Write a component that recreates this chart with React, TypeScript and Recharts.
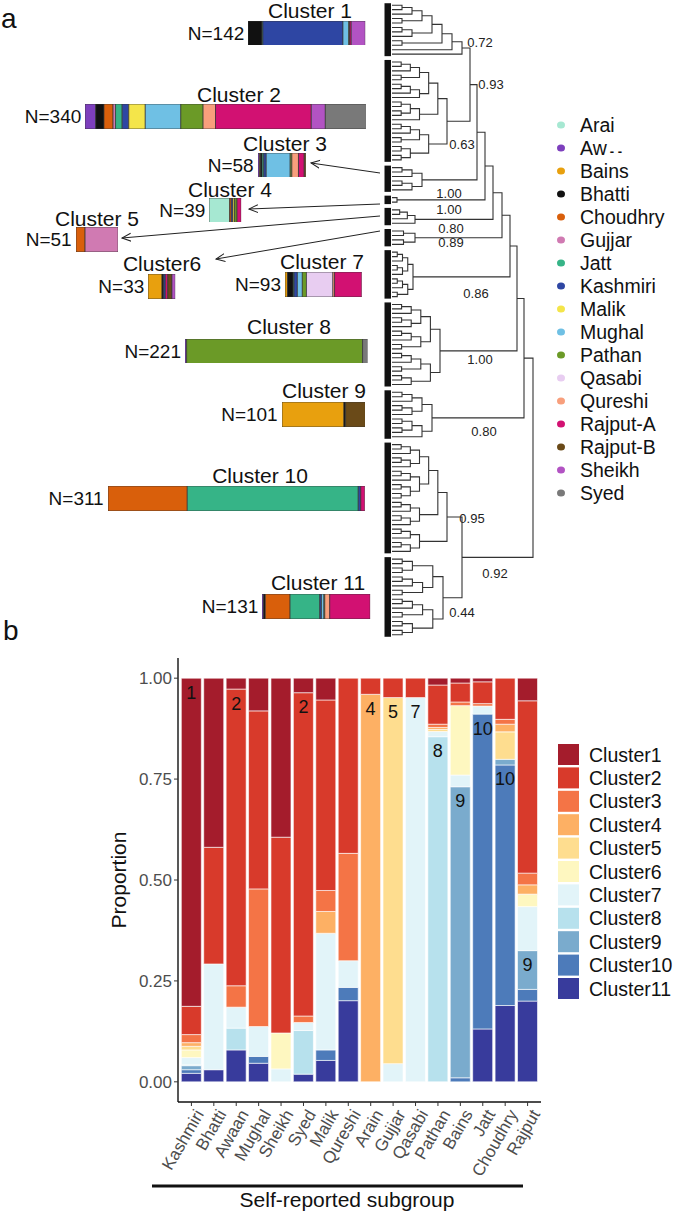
import React from 'react';
import { BarChart, Bar, XAxis, YAxis, LineChart, Line, ReferenceArea, LabelList } from 'recharts';

const FONT = '"Liberation Sans", Arial, Helvetica, sans-serif';

// ---------------- Panel a data ----------------
const subgroups = ['Arai', 'Awaan', 'Bains', 'Bhatti', 'Choudhry', 'Gujjar', 'Jatt', 'Kashmiri', 'Malik', 'Mughal', 'Pathan', 'Qasabi', 'Qureshi', 'Rajput-A', 'Rajput-B', 'Sheikh', 'Syed'];
const subgroupColors = ['#a6e8d2', '#7d3fbd', '#e8a00e', '#111111', '#d95f0b', '#d07ab2', '#36b487', '#2e46a3', '#f4e54a', '#6fc0e4', '#6b9a27', '#e8cdf1', '#f89f7c', '#d21172', '#6a4a18', '#b253c3', '#797979'];

const clusterNames = ['Cluster 1', 'Cluster 2', 'Cluster 3', 'Cluster 4', 'Cluster 5', 'Cluster6', 'Cluster 7', 'Cluster 8', 'Cluster 9', 'Cluster 10', 'Cluster 11'];
const clusterN = [142, 340, 58, 39, 51, 33, 93, 221, 101, 311, 131];

// counts per subgroup (order of `subgroups`)
const cluster1Counts = [0, 0, 0, 17, 0, 0, 1, 97, 0, 7, 1, 0, 0, 2, 0, 17, 0];
const cluster2Counts = [0, 13, 0, 10, 11, 3, 8, 8, 20, 43, 27, 0, 15, 116, 0, 17, 49];
const cluster3Counts = [0, 2, 1, 2, 0, 0, 2, 3, 0, 29, 2, 0, 8, 7, 2, 0, 0];
const cluster4Counts = [25, 0, 0, 0, 2, 0, 0, 2, 2, 0, 3, 0, 0, 5, 0, 0, 0];
const cluster5Counts = [0, 0, 0, 0, 11, 40, 0, 0, 0, 0, 0, 0, 0, 0, 0, 0, 0];
const cluster6Counts = [0, 0, 17, 2, 0, 0, 0, 2, 0, 0, 0, 0, 0, 3, 5, 4, 0];
const cluster7Counts = [0, 0, 3, 7, 0, 0, 1, 4, 0, 6, 5, 32, 2, 33, 0, 0, 0];
const cluster8Counts = [0, 2, 0, 0, 0, 0, 0, 0, 0, 0, 213, 0, 0, 0, 0, 0, 6];
const cluster9Counts = [0, 0, 75, 2, 0, 0, 0, 0, 0, 0, 0, 0, 0, 0, 24, 0, 0];
const cluster10Counts = [0, 0, 0, 0, 96, 0, 207, 3, 0, 0, 0, 0, 0, 5, 0, 0, 0];
const cluster11Counts = [0, 2, 0, 2, 30, 0, 36, 2, 0, 3, 1, 0, 6, 49, 0, 0, 0];
const clusterCounts = [cluster1Counts, cluster2Counts, cluster3Counts, cluster4Counts, cluster5Counts, cluster6Counts, cluster7Counts, cluster8Counts, cluster9Counts, cluster10Counts, cluster11Counts];

// dendrogram topology per cluster (0 = leaf)
const cluster1Tree = [[[[[[[0, 0], 0], [0, 0]], [[0, 0], 0]], [0, 0]], 0], 0];
const cluster2Tree = [[[[[[0, 0], 0], [0, 0]], [[[0, 0], 0], 0]], [[[0, 0], [0, 0]], 0]], [[[[0, 0], 0], [0, 0]], [[0, 0], [0, 0]]]];
const cluster3Tree = [[[0, 0], 0], [[0, 0], 0]];
const cluster4Tree = [0, 0];
const cluster5Tree = [[[0, 0], 0], 0];
const cluster6Tree = [[0, 0], [0, 0]];
const cluster7Tree = [[[[0, 0], 0], [[0, 0], 0]], [[[0, 0], 0], [0, 0]]];
const cluster8Tree = [[[[[0, 0], 0], [[0, 0], 0]], [[[0, 0], 0], [0, 0]]], [[[[0, 0], 0], [0, 0]], [[0, 0], 0]]];
const cluster9Tree = [[[[0, 0], 0], [[0, 0], 0]], [[[0, 0], [0, 0]], 0]];
const cluster10Tree = [[[[[[0, 0], 0], [[0, 0], 0]], [[[0, 0], 0], [[0, 0], [0, 0]]]], [[[0, 0], 0], [[0, 0], 0]]], [[[0, 0], 0], [[0, 0], 0]]];
const cluster11Tree = [[[[0, 0], [0, 0]], [[[0, 0], 0], [0, 0]]], [[[[0, 0], 0], [0, 0]], [[0, 0], [0, 0]]]];
const clusterTrees = [cluster1Tree, cluster2Tree, cluster3Tree, cluster4Tree, cluster5Tree, cluster6Tree, cluster7Tree, cluster8Tree, cluster9Tree, cluster10Tree, cluster11Tree];
const clusterRootHeights = [70, 55, 30, 5, 23, 23, 21, 48, 40, 55, 51];
const mergeTree = {
  h: 141, c: [
    { h: 132, c: [{ h: 125, c: [{ h: 118, c: [{ h: 110, c: [{ h: 101, c: [{ h: 93, c: [{ h: 85, c: [{ h: 78, c: [1, 2] }, 3] }, 4] }, 5] }, 6] }, 7] }, 8] }, 9] },
    { h: 70, c: [10, 11] },
  ],
};
const bootstrapLabels = ['0.72', '0.93', '0.63', '1.00', '1.00', '0.80', '0.89', '0.86', '1.00', '0.80', '0.95', '0.92', '0.44'];

// ---------------- Panel b data ----------------
const subgroupsB = ['Kashmiri', 'Bhatti', 'Awaan', 'Mughal', 'Sheikh', 'Syed', 'Malik', 'Qureshi', 'Arain', 'Gujjar', 'Qasabi', 'Pathan', 'Bains', 'Jatt', 'Choudhry', 'Rajput'];
const clusterKeys = ['Cluster1', 'Cluster2', 'Cluster3', 'Cluster4', 'Cluster5', 'Cluster6', 'Cluster7', 'Cluster8', 'Cluster9', 'Cluster10', 'Cluster11'];
const clusterColors = ['#a41c2c', '#d83a2b', '#f47446', '#fdb064', '#fedd8f', '#fef7c0', '#e2f4f9', '#b7e1ed', '#7aabcd', '#4d7bba', '#383b9c'];
const cluster1Prop = [0.813, 0.419, 0.027, 0.081, 0.394, 0.036, 0.054, 0, 0, 0, 0, 0.017, 0.012, 0.009, 0, 0.056];
const cluster2Prop = [0.07, 0.289, 0.735, 0.441, 0.485, 0.801, 0.472, 0.434, 0.04, 0.048, 0.048, 0.097, 0.047, 0.054, 0.102, 0.427];
const cluster3Prop = [0.02, 0, 0.053, 0.341, 0, 0.016, 0.052, 0.266, 0, 0, 0, 0.008, 0.009, 0.006, 0.012, 0.029];
const cluster4Prop = [0.009, 0, 0, 0, 0, 0, 0.054, 0, 0.96, 0, 0, 0.005, 0, 0, 0.019, 0.023];
const cluster5Prop = [0.009, 0, 0, 0, 0, 0, 0, 0, 0, 0.907, 0, 0.005, 0, 0, 0.068, 0];
const cluster6Prop = [0.019, 0, 0, 0, 0.089, 0, 0, 0, 0, 0, 0, 0, 0.172, 0, 0, 0.031];
const cluster7Prop = [0.018, 0.262, 0.052, 0.074, 0.032, 0.02, 0.289, 0.066, 0, 0.045, 0.952, 0.013, 0.029, 0.02, 0, 0.109];
const cluster8Prop = [0.002, 0, 0.054, 0, 0, 0.108, 0, 0, 0, 0, 0, 0.855, 0, 0, 0, 0];
const cluster9Prop = [0.01, 0, 0, 0, 0, 0, 0, 0, 0, 0, 0, 0, 0.721, 0, 0.014, 0.096];
const cluster10Prop = [0.009, 0, 0, 0.017, 0, 0, 0.026, 0.033, 0, 0, 0, 0, 0.01, 0.78, 0.596, 0.029];
const cluster11Prop = [0.021, 0.03, 0.079, 0.046, 0, 0.019, 0.053, 0.201, 0, 0, 0, 0, 0, 0.131, 0.189, 0.2];
const clusterProps = [cluster1Prop, cluster2Prop, cluster3Prop, cluster4Prop, cluster5Prop, cluster6Prop, cluster7Prop, cluster8Prop, cluster9Prop, cluster10Prop, cluster11Prop];
const barLabelCluster = [1, 0, 2, 0, 0, 2, 0, 0, 4, 5, 7, 8, 9, 10, 10, 9];
const yTicks = [0, 0.25, 0.5, 0.75, 1];

// ---------------- layout ----------------
const PX_PER_IND = 0.826;
const BAR_H = 24.5;
const CLUSTER_GAP = 0.75;
const barLeft = [248.3, 85.3, 257.7, 209.3, 75.7, 148.3, 285, 185, 281.7, 107.7, 262.3];
const barTop = [20.7, 104, 152.5, 197.5, 227, 274, 272, 338.5, 402, 486, 594];
const titleX = [310, 239, 285, 230, 97, 162, 322, 289, 324, 260, 318];
const titleY = [10, 94, 143, 189, 218, 263, 261, 326, 390, 475, 582];
const bootstrapPos = [[480, 42], [491, 84], [462, 144], [449, 193], [449, 209], [451, 228], [451, 242], [476, 293], [480, 359], [484, 431], [472, 518], [495, 573], [462, 612]];
const arrowLines = [[380, 173, 311, 163], [380, 204, 249, 209], [380, 216, 122, 238], [380, 231, 216, 259]];

function depthOf(t: any): number {
  return Array.isArray(t) ? 1 + Math.max(...t.map(depthOf)) : 0;
}

interface DN { h: number; y: number; kids: DN[] }

function buildDendro() {
  let cursor = 0;
  let first = true;
  const blocks: { y0: number; y1: number }[] = [];
  const buildSub = (t: any, rootH: number, maxD: number): DN => {
    if (!Array.isArray(t)) {
      const n = { h: 0, y: cursor, kids: [] as DN[] };
      cursor += 1;
      return n;
    }
    const kids = t.map((k: any) => buildSub(k, rootH, maxD));
    return { h: (rootH * depthOf(t)) / maxD, y: (kids[0].y + kids[kids.length - 1].y) / 2, kids };
  };
  const buildTop = (t: any): DN => {
    if (typeof t === 'number') {
      const idx = t - 1;
      if (!first) cursor += CLUSTER_GAP;
      first = false;
      const start = cursor;
      const tree = clusterTrees[idx];
      const node = buildSub(tree, clusterRootHeights[idx], depthOf(tree));
      blocks[idx] = { y0: start, y1: cursor - 1 };
      return node;
    }
    const kids = t.c.map(buildTop);
    return { h: t.h, y: (kids[0].y + kids[kids.length - 1].y) / 2, kids };
  };
  const root = buildTop(mergeTree);
  const pts: any[] = [];
  const walk = (n: DN) => {
    if (!n.kids.length) return;
    const a = n.kids[0];
    const b = n.kids[n.kids.length - 1];
    pts.push({ x: a.h, y: a.y }, { x: n.h, y: a.y }, { x: n.h, y: b.y }, { x: b.h, y: b.y }, { x: b.h, y: null });
    n.kids.forEach(walk);
  };
  walk(root);
  return { pts, blocks, maxY: cursor - 1 };
}

function ClusterBar({ idx }: { idx: number }) {
  const n = clusterN[idx];
  const counts = clusterCounts[idx];
  const row: any = { name: clusterNames[idx] };
  subgroups.forEach((s, i) => { row[s] = counts[i]; });
  return (
    <div style={{ position: 'absolute', left: barLeft[idx], top: barTop[idx] }}>
      <BarChart width={n * PX_PER_IND} height={BAR_H} data={[row]} layout="vertical" margin={{ top: 0, right: 0, bottom: 0, left: 0 }} barCategoryGap={0}>
        <XAxis type="number" domain={[0, n]} allowDataOverflow hide />
        <YAxis type="category" dataKey="name" hide />
        {subgroups.map((s, i) =>
          counts[i] > 0 ? (
            <Bar key={s} dataKey={s} stackId="a" fill={subgroupColors[i]} stroke="#333" strokeWidth={0.7} isAnimationActive={false} />
          ) : null
        )}
      </BarChart>
    </div>
  );
}

const XTick = (props: any) => {
  const { x, y, payload } = props;
  return (
    <g transform={`translate(${x + 13},${y + 6}) rotate(-60)`}>
      <text x={0} y={0} textAnchor="end" fontSize={17} fill="#4d4d4d" fontFamily={FONT}>{payload.value}</text>
    </g>
  );
};

const renderBarLabel = (props: any) => {
  const vb = props.viewBox || {};
  const x = vb.x ?? props.x;
  const y = vb.y ?? props.y;
  const w = vb.width ?? props.width;
  const v = props.value;
  if (!v) return null;
  return (
    <text x={x + w / 2} y={y + 20.5} textAnchor="middle" fontSize={18} fill="#111" fontFamily={FONT}>{v}</text>
  );
};

export default function App() {
  const { pts, blocks, maxY } = buildDendro();
  const panelBData = subgroupsB.map((name, i) => {
    const row: any = { name };
    clusterKeys.forEach((k, j) => {
      row[k] = clusterProps[j][i];
      row['lab' + (j + 1)] = barLabelCluster[i] === j + 1 ? String(j + 1) : '';
    });
    return row;
  });

  return (
    <div style={{ position: 'absolute', left: 0, top: 0, width: 675, height: 1211, fontFamily: FONT, background: '#fff', overflow: 'hidden' }}>
      {clusterN.map((_, i) => <ClusterBar key={i} idx={i} />)}

      <div style={{ position: 'absolute', left: 384, top: 3 }}>
        <LineChart width={150} height={634} data={pts} margin={{ top: 0, right: 0, bottom: 0, left: 0 }}>
          <XAxis type="number" dataKey="x" domain={[-8, 142]} allowDataOverflow hide />
          <YAxis type="number" domain={[-0.5, maxY + 0.5]} reversed allowDataOverflow hide />
          {blocks.map((b, i) => (
            <ReferenceArea key={i} x1={-7.5} x2={-1} y1={b.y0 - 0.45} y2={b.y1 + 0.45} fill="#111" fillOpacity={1} stroke="none" ifOverflow="visible" />
          ))}
          <Line dataKey="y" stroke="#333" strokeWidth={1.1} dot={false} activeDot={false} isAnimationActive={false} connectNulls={false} />
        </LineChart>
      </div>

      <div style={{ position: 'absolute', left: 0, top: 640 }}>
        <BarChart width={675} height={571} data={panelBData} margin={{ top: 18, right: 134, bottom: 29, left: 118 }} barCategoryGap="5%">
          <XAxis dataKey="name" interval={0} padding={{ left: 2.2, right: 2.2 }} tick={<XTick />} tickSize={4} tickLine={{ stroke: '#333' }} axisLine={{ stroke: '#111', strokeWidth: 1.4 }} height={80} />
          <YAxis domain={[-0.05, 1.05]} ticks={yTicks} allowDataOverflow tickFormatter={(v: number) => v.toFixed(2)} width={60} tickSize={4} tickLine={{ stroke: '#333' }} tick={{ fontSize: 17, fill: '#4d4d4d', fontFamily: FONT }} axisLine={{ stroke: '#111', strokeWidth: 1.4 }} />
          {clusterKeys.map((_, jj) => {
            const j = clusterKeys.length - 1 - jj;
            return (
              <Bar key={clusterKeys[j]} dataKey={clusterKeys[j]} stackId="s" fill={clusterColors[j]} stroke="#ffffff" strokeWidth={0.6} isAnimationActive={false}>
                <LabelList dataKey={'lab' + (j + 1)} content={renderBarLabel} />
              </Bar>
            );
          })}
        </BarChart>
      </div>

      <svg width={675} height={1211} style={{ position: 'absolute', left: 0, top: 0, pointerEvents: 'none' }} fontFamily={FONT}>
        <defs>
          <marker id="ah" markerWidth="10" markerHeight="10" refX="9" refY="5" orient="auto" markerUnits="userSpaceOnUse">
            <path d="M0,1 L9,5 L0,9" fill="none" stroke="#222" strokeWidth={1} />
          </marker>
        </defs>
        <text x={1} y={28} fontSize={28} fill="#111">a</text>
        <text x={3} y={640} fontSize={28} fill="#111">b</text>

        {clusterNames.map((nm, i) => (
          <g key={nm}>
            <text x={titleX[i]} y={titleY[i] + 7.5} fontSize={21} textAnchor="middle" fill="#111">{nm}</text>
            <text x={barLeft[i] - 4} y={barTop[i] + BAR_H / 2 + 7} fontSize={19} textAnchor="end" fill="#111">{'N=' + clusterN[i]}</text>
          </g>
        ))}

        {arrowLines.map((a, i) => (
          <line key={i} x1={a[0]} y1={a[1]} x2={a[2]} y2={a[3]} stroke="#222" strokeWidth={1} markerEnd="url(#ah)" />
        ))}

        {bootstrapLabels.map((b, i) => (
          <text key={i} x={bootstrapPos[i][0]} y={bootstrapPos[i][1] + 4.5} fontSize={13} textAnchor="middle" fill="#222">{b}</text>
        ))}

        {subgroups.map((s, i) => (
          <g key={s}>
            <ellipse cx={561} cy={125 + i * 23} rx={4} ry={3.5} fill={subgroupColors[i]} />
            {s === 'Awaan' ? (
              <text x={580} y={125 + i * 23 + 7} fontSize={19.5} fill="#111">
                Aw<tspan dx={3} dy={1} fontSize={13} fontWeight="bold">- -</tspan>
              </text>
            ) : (
              <text x={580} y={125 + i * 23 + 7} fontSize={19.5} fill="#111">{s}</text>
            )}
          </g>
        ))}

        <text transform="translate(126,880) rotate(-90)" textAnchor="middle" fontSize={21} fill="#111">Proportion</text>
        <rect x={152} y={1184.5} width={371} height={3} fill="#111" />
        <text x={347} y={1207} textAnchor="middle" fontSize={21} fill="#111">Self-reported subgroup</text>

        {clusterKeys.map((k, j) => (
          <g key={k}>
            <rect x={558} y={744 + j * 23.4} width={21} height={21} fill={clusterColors[j]} />
            <text x={589} y={754.5 + j * 23.4 + 7} fontSize={19.5} fill="#111">{k}</text>
          </g>
        ))}
      </svg>
    </div>
  );
}
